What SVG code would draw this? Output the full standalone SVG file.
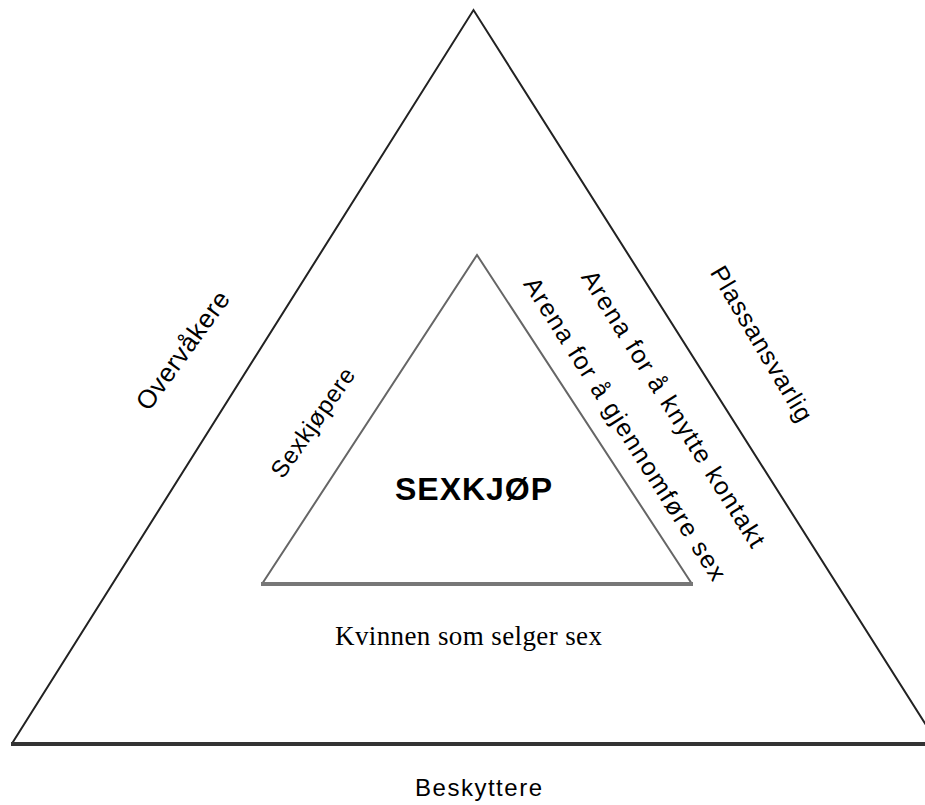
<svg xmlns="http://www.w3.org/2000/svg" width="925" height="805" viewBox="0 0 925 805">
<style>
.sans{font-family:"Liberation Sans",Arial,sans-serif;fill:#000}
.serif{font-family:"Liberation Serif","Times New Roman",serif;fill:#000}
.outer{fill:none;stroke:#222;stroke-width:2}
.inner{fill:none;stroke:#666;stroke-width:2}
</style>
<rect width="925" height="805" fill="#fff"/>
<g id="connectors">
<polyline class="outer" points="11.7,744 473.5,10 938,744"/>
<line x1="11" y1="744" x2="925" y2="744" stroke="#333" stroke-width="4"/>
<polyline class="inner" points="262,584 477,255 692,584"/>
<line x1="261" y1="584" x2="693" y2="584" stroke="#777" stroke-width="4"/>
</g>
<g id="overvakere"><text class="sans" font-size="26" text-anchor="middle" textLength="140" lengthAdjust="spacing" x="189.8" y="355.7" transform="rotate(-54 189.8 355.7)">Overvåkere</text></g>
<g id="sexkjopere"><text class="sans" font-size="24" text-anchor="middle" textLength="128" lengthAdjust="spacing" x="319.5" y="427.3" transform="rotate(-55 319.5 427.3)">Sexkjøpere</text></g>
<g id="plassansvarlig"><text class="sans" font-size="25" text-anchor="middle" textLength="176" lengthAdjust="spacing" x="754.3" y="348" transform="rotate(59.4 754.3 348)">Plassansvarlig</text></g>
<g id="arena-kontakt"><text class="sans" font-size="25" text-anchor="middle" textLength="322" lengthAdjust="spacing" x="666.2" y="413.2" transform="rotate(57.8 666.2 413.2)">Arena for å knytte kontakt</text></g>
<g id="arena-sex"><text class="sans" font-size="25" text-anchor="middle" textLength="354" lengthAdjust="spacing" x="617.9" y="433.2" transform="rotate(57.5 617.9 433.2)">Arena for å gjennomføre sex</text></g>
<g id="sexkjop"><text class="sans" font-size="32" font-weight="bold" text-anchor="middle" textLength="157" lengthAdjust="spacing" x="473.5" y="500">SEXKJØP</text></g>
<g id="kvinnen"><text class="serif" font-size="27" text-anchor="middle" textLength="267" lengthAdjust="spacing" x="468.5" y="645">Kvinnen som selger sex</text></g>
<g id="beskyttere"><text class="sans" font-size="24" text-anchor="middle" textLength="127" lengthAdjust="spacing" x="478.5" y="796">Beskyttere</text></g>
</svg>
